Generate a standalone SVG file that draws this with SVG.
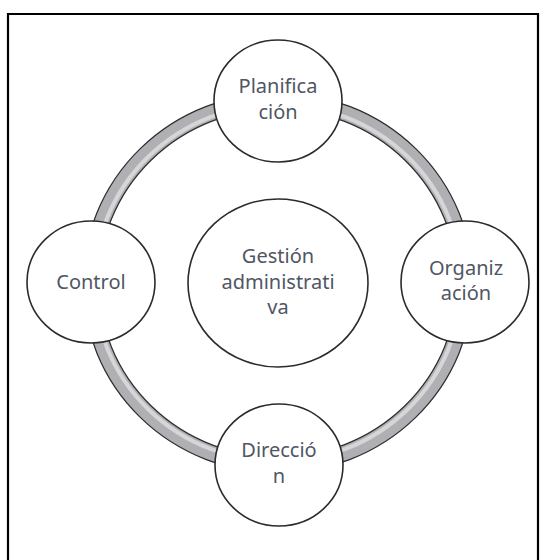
<svg xmlns="http://www.w3.org/2000/svg" width="542" height="560" viewBox="0 0 542 560">
<style>
.node{fill:#ffffff;stroke:#2b2b2b;stroke-width:1.6}
.lbl{font-family:"Noto Sans","Open Sans",sans-serif;font-size:20px;fill:#505663;text-anchor:middle}
</style>
<rect x="0" y="0" width="542" height="560" fill="#ffffff"/>
<path d="M8 570 V14 H538 V570" fill="none" stroke="#000" stroke-width="2.2"/>
<g id="connectors">
<ellipse cx="278" cy="283" rx="187" ry="182" fill="none" stroke="#2e2e2e" stroke-width="17"/>
<ellipse cx="278" cy="283" rx="187" ry="182" fill="none" stroke="#b0b0b4" stroke-width="14.5"/>
<ellipse cx="278" cy="283" rx="183.5" ry="178.5" fill="none" stroke="#d6d6d8" stroke-width="4"/>
</g>
<g id="center">
<ellipse class="node" cx="278" cy="283" rx="90" ry="84"/>
<text class="lbl" x="278" y="263">Gestión</text>
<text class="lbl" x="278" y="289">administrati</text>
<text class="lbl" x="278" y="314">va</text>
</g>
<g id="planificacion">
<ellipse class="node" cx="278" cy="101" rx="64" ry="61"/>
<text class="lbl" x="278" y="93">Planifica</text>
<text class="lbl" x="278" y="119">ción</text>
</g>
<g id="organizacion">
<ellipse class="node" cx="465" cy="282" rx="64" ry="61"/>
<text class="lbl" x="466" y="275">Organiz</text>
<text class="lbl" x="466" y="300">ación</text>
</g>
<g id="direccion">
<ellipse class="node" cx="279" cy="465" rx="64" ry="61"/>
<text class="lbl" x="279" y="457">Direcció</text>
<text class="lbl" x="279" y="483">n</text>
</g>
<g id="control">
<ellipse class="node" cx="91" cy="282" rx="64" ry="61"/>
<text class="lbl" x="91" y="289">Control</text>
</g>
</svg>
